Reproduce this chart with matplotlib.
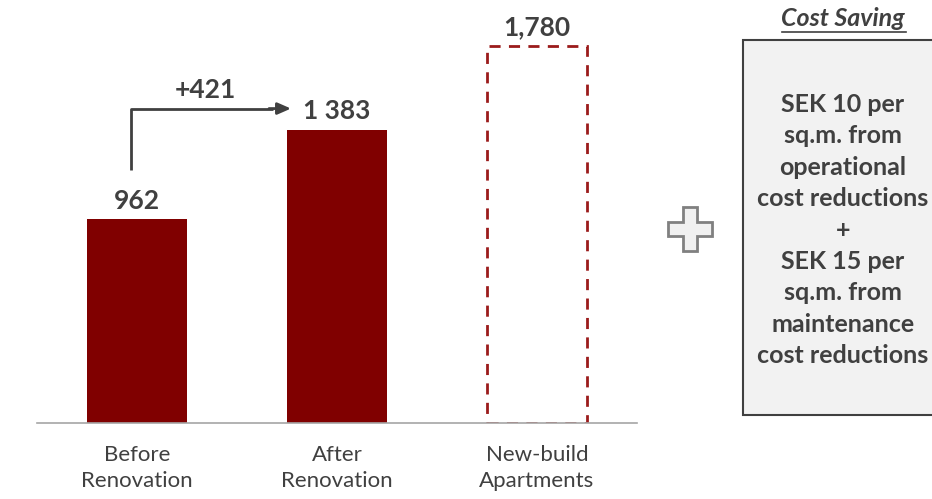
import numpy as np
import matplotlib.pyplot as plt
from matplotlib.patches import Rectangle, Polygon

plt.rcParams['font.family'] = ['Lato', 'DejaVu Sans']

categories = ["Before\nRenovation", "After\nRenovation", "New-build\nApartments"]
values = [962, 1383, 1780]
value_labels = ["962", "1 383", "1,780"]
delta_label = "+421"
box_lines = ["SEK 10 per", "sq.m. from", "operational", "cost reductions", "+",
             "SEK 15 per", "sq.m. from", "maintenance", "cost reductions"]

W, H = 932, 499
fig = plt.figure(figsize=(W / 100, H / 100), dpi=100)
ax = fig.add_axes([37 / W, 76 / H, 600 / W, 423 / H])

x = np.arange(len(values))
red = "#800000"
ax.bar(x[:2], values[:2], width=0.5, color=red)
ax.bar(x[2], values[2], width=0.5, facecolor="none", edgecolor="#9b1b1b",
       linewidth=2, linestyle=(0, (4, 3)))

ax.set_xlim(-0.5, 2.5)
ax.set_ylim(0, 1995)
for s in ["top", "left", "right"]:
    ax.spines[s].set_visible(False)
ax.spines["bottom"].set_color("#a6a6a6")
ax.spines["bottom"].set_linewidth(1.2)
ax.set_yticks([])
ax.set_xticks(x)
ax.set_xticklabels(categories, fontsize=16, color="#404040", linespacing=1.38)
ax.tick_params(axis="x", length=0, pad=16)

dark = "#404040"
for i, v in enumerate(values):
    ax.text(x[i], v + 30, value_labels[i], ha="center", va="bottom",
            fontsize=19, fontweight="bold", color=dark)

# step arrow between first two bars
y0 = values[0] + 230
y1 = values[1] + 100
ax.plot([-0.03, -0.03, 0.68], [y0, y1, y1], color=dark, lw=2, solid_capstyle="butt")
ax.annotate("", xy=(0.77, y1), xytext=(0.66, y1),
            arrowprops=dict(arrowstyle="-|>,head_length=0.8,head_width=0.35",
                        color=dark, lw=2, shrinkA=0, shrinkB=0))
ax.text(0.34, y1 + 32, delta_label, ha="center", va="bottom",
        fontsize=19, fontweight="bold", color=dark)

# plus icon
cx, cy, a, b = 690, 270, 22, 7
pts = [(cx - b, cy + a), (cx + b, cy + a), (cx + b, cy + b), (cx + a, cy + b),
       (cx + a, cy - b), (cx + b, cy - b), (cx + b, cy - a), (cx - b, cy - a),
       (cx - b, cy - b), (cx - a, cy - b), (cx - a, cy + b), (cx - b, cy + b)]
fig.patches.append(Polygon([(px / W, py / H) for px, py in pts], closed=True,
                           transform=fig.transFigure, facecolor="#f0f0f0",
                           edgecolor="#808080", linewidth=2))

# cost saving box
fig.patches.append(Rectangle((743 / W, (H - 415) / H), 200 / W, 375 / H,
                             transform=fig.transFigure, facecolor="#f2f2f2",
                             edgecolor=dark, linewidth=1.5))
fig.text(843 / W, (H - 19) / H, "Cost Saving", ha="center", va="center",
         fontsize=18, fontweight="bold", style="italic", color=dark)
fig.add_artist(plt.Line2D([782 / W, 906 / W], [(H - 32) / H] * 2, color=dark, lw=1.2))
fig.text(843 / W, (H - 230) / H, "\n".join(box_lines), ha="center", va="center",
         fontsize=18, fontweight="bold", color=dark, linespacing=1.44)

fig.savefig("out.png", dpi=100)
